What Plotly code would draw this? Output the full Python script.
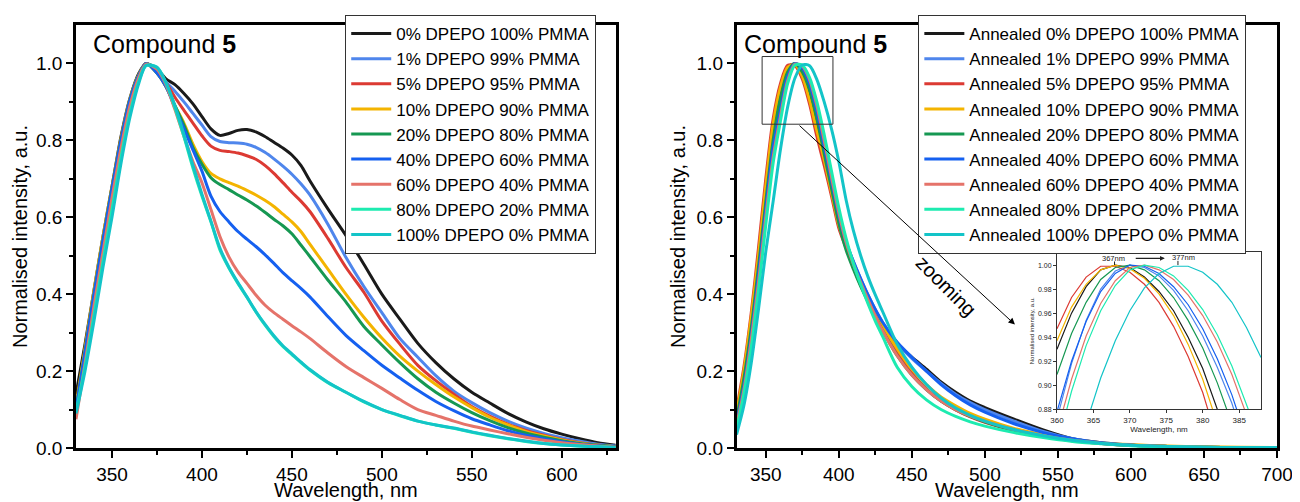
import plotly.graph_objects as go

# ---------------- data: as-cast films (left) ----------------
X_L = [330, 335, 340, 345, 350, 355, 360, 365, 369, 375, 380, 385, 390, 395, 400, 405, 410, 415, 420,
       425, 430, 435, 440, 445, 450, 455, 460, 470, 480, 490, 500, 510, 520, 530, 540, 550, 560,
       570, 580, 590, 600, 610, 620, 630]

L_0 = [0.14, 0.27, 0.41, 0.55, 0.68, 0.81, 0.91, 0.975, 1.0, 0.985, 0.96, 0.945, 0.922, 0.895, 0.862, 0.83, 0.813, 0.818, 0.826,
       0.828, 0.822, 0.81, 0.795, 0.78, 0.762, 0.735, 0.695, 0.622, 0.553, 0.478, 0.40, 0.335, 0.272, 0.222, 0.18, 0.145, 0.117,
       0.09, 0.068, 0.05, 0.036, 0.024, 0.014, 0.007]
L_1 = [0.10, 0.25, 0.40, 0.54, 0.675, 0.80, 0.905, 0.97, 1.0, 0.98, 0.952, 0.928, 0.9, 0.87, 0.84, 0.81, 0.797, 0.794, 0.793,
       0.79, 0.782, 0.769, 0.752, 0.733, 0.712, 0.687, 0.658, 0.582, 0.496, 0.42, 0.352, 0.285, 0.236, 0.188, 0.148, 0.118, 0.092,
       0.07, 0.052, 0.038, 0.027, 0.018, 0.01, 0.005]
L_5 = [0.10, 0.25, 0.40, 0.54, 0.675, 0.80, 0.905, 0.97, 1.0, 0.978, 0.95, 0.912, 0.878, 0.845, 0.812, 0.785, 0.774, 0.771, 0.767,
       0.76, 0.751, 0.735, 0.714, 0.69, 0.665, 0.642, 0.615, 0.545, 0.47, 0.405, 0.33, 0.27, 0.215, 0.175, 0.14, 0.108, 0.083,
       0.062, 0.046, 0.033, 0.022, 0.014, 0.008, 0.003]
L_10 = [0.11, 0.26, 0.41, 0.55, 0.68, 0.805, 0.908, 0.972, 1.0, 0.975, 0.94, 0.89, 0.845, 0.79, 0.745, 0.714, 0.7, 0.69, 0.681,
        0.67, 0.658, 0.644, 0.628, 0.608, 0.588, 0.563, 0.53, 0.465, 0.40, 0.34, 0.286, 0.239, 0.2, 0.165, 0.133, 0.105, 0.08,
        0.06, 0.043, 0.031, 0.021, 0.013, 0.007, 0.003]
L_20 = [0.10, 0.25, 0.40, 0.54, 0.675, 0.80, 0.905, 0.97, 1.0, 0.975, 0.94, 0.89, 0.84, 0.782, 0.738, 0.703, 0.685, 0.672, 0.658,
        0.645, 0.63, 0.613, 0.595, 0.578, 0.557, 0.528, 0.498, 0.437, 0.38, 0.316, 0.268, 0.222, 0.18, 0.145, 0.117, 0.092, 0.071,
        0.053, 0.039, 0.028, 0.019, 0.012, 0.007, 0.003]
L_40 = [0.10, 0.25, 0.40, 0.54, 0.675, 0.80, 0.905, 0.97, 1.0, 0.975, 0.94, 0.885, 0.83, 0.775, 0.72, 0.655, 0.615, 0.588, 0.563,
        0.543, 0.524, 0.503, 0.48, 0.456, 0.435, 0.415, 0.393, 0.342, 0.293, 0.253, 0.215, 0.182, 0.15, 0.121, 0.097, 0.076, 0.06,
        0.045, 0.033, 0.024, 0.016, 0.01, 0.006, 0.002]
L_60 = [0.075, 0.22, 0.37, 0.51, 0.65, 0.78, 0.89, 0.965, 0.998, 0.985, 0.945, 0.88, 0.81, 0.745, 0.69, 0.62, 0.55, 0.497, 0.458,
        0.428, 0.398, 0.372, 0.352, 0.335, 0.318, 0.302, 0.285, 0.247, 0.212, 0.183, 0.155, 0.126, 0.1, 0.085, 0.07, 0.057, 0.047,
        0.037, 0.028, 0.02, 0.014, 0.009, 0.005, 0.002]
L_80 = [0.095, 0.21, 0.345, 0.485, 0.62, 0.755, 0.87, 0.955, 0.995, 0.99, 0.95, 0.885, 0.81, 0.728, 0.655, 0.588, 0.515, 0.468, 0.428,
        0.392, 0.354, 0.32, 0.29, 0.264, 0.243, 0.222, 0.203, 0.17, 0.145, 0.12, 0.1, 0.084, 0.07, 0.06, 0.051, 0.041, 0.032,
        0.024, 0.017, 0.012, 0.008, 0.005, 0.003, 0.001]
L_100 = [0.09, 0.20, 0.33, 0.47, 0.60, 0.74, 0.86, 0.95, 0.995, 0.99, 0.95, 0.89, 0.815, 0.735, 0.66, 0.59, 0.52, 0.47, 0.43,
         0.393, 0.355, 0.322, 0.292, 0.266, 0.245, 0.224, 0.204, 0.171, 0.145, 0.121, 0.1, 0.085, 0.07, 0.06, 0.052, 0.042, 0.033,
         0.025, 0.018, 0.012, 0.008, 0.005, 0.003, 0.001]

# ---------------- data: annealed films (right) ----------------
X_R = [330, 335, 340, 345, 350, 355, 360, 365, 370, 375, 380, 385, 390, 395, 400, 405, 410, 415, 420, 425, 430,
       440, 450, 460, 470, 480, 490, 500, 520, 540, 560, 580, 600, 625, 650, 675, 700]

R_0 = [0.08, 0.19, 0.33, 0.49, 0.67, 0.83, 0.93, 0.99, 0.998, 0.97, 0.914, 0.83, 0.755, 0.67, 0.585, 0.525, 0.475, 0.43, 0.392, 0.355, 0.322,
       0.272, 0.236, 0.205, 0.172, 0.145, 0.122, 0.105, 0.075, 0.047, 0.024, 0.013, 0.007, 0.004, 0.002, 0.001, 0.001]
R_1 = [0.07, 0.17, 0.30, 0.46, 0.63, 0.77, 0.885, 0.97, 1.0, 0.985, 0.941, 0.86, 0.77, 0.685, 0.60, 0.535, 0.485, 0.44, 0.398, 0.36, 0.326,
       0.273, 0.233, 0.2, 0.168, 0.14, 0.118, 0.1, 0.07, 0.043, 0.024, 0.013, 0.007, 0.004, 0.002, 0.001, 0.001]
R_5 = [0.10, 0.21, 0.35, 0.52, 0.70, 0.855, 0.947, 0.995, 0.994, 0.96, 0.894, 0.81, 0.735, 0.655, 0.572, 0.52, 0.47, 0.423, 0.383, 0.345, 0.31,
       0.25, 0.195, 0.153, 0.122, 0.099, 0.081, 0.067, 0.045, 0.03, 0.019, 0.012, 0.007, 0.004, 0.002, 0.001, 0.001]
R_10 = [0.09, 0.20, 0.34, 0.50, 0.68, 0.84, 0.937, 0.99, 0.997, 0.967, 0.905, 0.825, 0.75, 0.665, 0.58, 0.525, 0.475, 0.43, 0.39, 0.352, 0.318,
        0.258, 0.205, 0.165, 0.133, 0.11, 0.09, 0.075, 0.051, 0.034, 0.022, 0.014, 0.009, 0.005, 0.003, 0.002, 0.001]
R_20 = [0.075, 0.18, 0.31, 0.47, 0.64, 0.80, 0.909, 0.978, 1.0, 0.978, 0.931, 0.855, 0.765, 0.675, 0.585, 0.515, 0.465, 0.42, 0.38, 0.342, 0.305,
        0.24, 0.19, 0.152, 0.122, 0.1, 0.082, 0.068, 0.046, 0.03, 0.019, 0.012, 0.007, 0.004, 0.002, 0.001, 0.001]
R_40 = [0.065, 0.16, 0.29, 0.45, 0.62, 0.78, 0.878, 0.966, 1.0, 0.988, 0.947, 0.875, 0.785, 0.695, 0.605, 0.535, 0.485, 0.44, 0.398, 0.36, 0.327,
        0.275, 0.236, 0.2, 0.165, 0.136, 0.112, 0.093, 0.063, 0.04, 0.024, 0.014, 0.008, 0.004, 0.002, 0.001, 0.001]
R_60 = [0.06, 0.15, 0.28, 0.43, 0.60, 0.755, 0.861, 0.955, 0.998, 0.993, 0.958, 0.89, 0.80, 0.705, 0.612, 0.535, 0.478, 0.43, 0.385, 0.343, 0.305,
        0.24, 0.19, 0.152, 0.122, 0.1, 0.083, 0.07, 0.048, 0.032, 0.02, 0.012, 0.007, 0.004, 0.002, 0.001, 0.001]
R_80 = [0.05, 0.14, 0.26, 0.41, 0.58, 0.74, 0.849, 0.948, 0.996, 0.996, 0.963, 0.90, 0.815, 0.72, 0.625, 0.545, 0.48, 0.425, 0.375, 0.33, 0.29,
        0.21, 0.16, 0.125, 0.1, 0.082, 0.068, 0.057, 0.04, 0.027, 0.017, 0.011, 0.006, 0.003, 0.002, 0.001, 0.001]
R_100 = [0.035, 0.11, 0.22, 0.36, 0.51, 0.64, 0.775, 0.887, 0.962, 0.996, 0.994, 0.958, 0.90, 0.83, 0.745, 0.645, 0.565, 0.5, 0.445, 0.398, 0.355,
         0.27, 0.21, 0.165, 0.13, 0.104, 0.085, 0.07, 0.048, 0.032, 0.02, 0.012, 0.007, 0.004, 0.002, 0.001, 0.001]

# ---------------- data: inset (zoom on annealed peaks) ----------------
X_IN = [360, 362, 364, 366, 368, 370, 372, 374, 376, 378, 380, 382, 384, 386, 388]
IN_0 = [0.930, 0.960, 0.982, 0.996, 1.0, 0.998, 0.990, 0.978, 0.962, 0.940, 0.914, 0.882, 0.846, 0.806, 0.760]
IN_1 = [0.872, 0.918, 0.954, 0.980, 0.995, 1.0, 0.998, 0.991, 0.979, 0.962, 0.941, 0.915, 0.885, 0.849, 0.809]
IN_5 = [0.947, 0.973, 0.990, 0.999, 0.999, 0.994, 0.984, 0.969, 0.949, 0.924, 0.894, 0.858, 0.818, 0.773, 0.722]
IN_10 = [0.937, 0.965, 0.984, 0.996, 1.0, 0.997, 0.989, 0.976, 0.958, 0.934, 0.905, 0.871, 0.831, 0.786, 0.736]
IN_20 = [0.909, 0.943, 0.969, 0.988, 0.998, 1.0, 0.996, 0.987, 0.973, 0.954, 0.931, 0.902, 0.868, 0.828, 0.784]
IN_40 = [0.878, 0.920, 0.953, 0.978, 0.993, 1.0, 0.999, 0.993, 0.982, 0.967, 0.947, 0.922, 0.892, 0.858, 0.819]
IN_60 = [0.861, 0.905, 0.941, 0.968, 0.987, 0.998, 1.0, 0.996, 0.988, 0.975, 0.958, 0.936, 0.909, 0.878, 0.842]
IN_80 = [0.849, 0.895, 0.933, 0.962, 0.983, 0.996, 1.0, 0.998, 0.991, 0.979, 0.963, 0.942, 0.916, 0.886, 0.852]
IN_100 = [0.775, 0.825, 0.868, 0.906, 0.937, 0.962, 0.981, 0.993, 0.999, 0.999, 0.994, 0.984, 0.969, 0.948, 0.923]

NAMES = ["0% DPEPO 100% PMMA", "1% DPEPO 99% PMMA", "5% DPEPO 95% PMMA", "10% DPEPO 90% PMMA",
         "20% DPEPO 80% PMMA", "40% DPEPO 60% PMMA", "60% DPEPO 40% PMMA", "80% DPEPO 20% PMMA",
         "100% DPEPO 0% PMMA"]
COLORS = ["#1a1a1a", "#4f86ec", "#dc3a33", "#f4b400", "#169852", "#1560f0", "#e5736a", "#1debb0", "#13c4c8"]
LEFT = [L_0, L_1, L_5, L_10, L_20, L_40, L_60, L_80, L_100]
RIGHT = [R_0, R_1, R_5, R_10, R_20, R_40, R_60, R_80, R_100]
INSET = [IN_0, IN_1, IN_5, IN_10, IN_20, IN_40, IN_60, IN_80, IN_100]

FONT = "Liberation Sans, Arial, sans-serif"

fig = go.Figure()
for name, col, ys in zip(NAMES, COLORS, LEFT):
    fig.add_trace(go.Scatter(x=X_L, y=ys, mode="lines", name=name, xaxis="x", yaxis="y",
                             line=dict(color=col, width=3, shape="spline", smoothing=0.8),
                             legend="legend"))
for name, col, ys in zip(NAMES, COLORS, RIGHT):
    fig.add_trace(go.Scatter(x=X_R, y=ys, mode="lines", name="Annealed " + name, xaxis="x2", yaxis="y2",
                             line=dict(color=col, width=3, shape="spline", smoothing=0.8),
                             legend="legend2"))
for name, col, ys in zip(NAMES, COLORS, INSET):
    fig.add_trace(go.Scatter(x=X_IN, y=ys, mode="lines", name="inset " + name, xaxis="x3", yaxis="y3",
                             line=dict(color=col, width=1.2), showlegend=False))


def main_axis(**kw):
    d = dict(showline=True, linewidth=2.5, linecolor="black", mirror=True,
             ticks="outside", ticklen=7, tickwidth=2, tickcolor="black",
             tickfont=dict(size=19, color="black", family=FONT),
             showgrid=False, zeroline=False)
    d.update(kw)
    return d


def inset_axis(**kw):
    d = dict(showline=True, linewidth=1, linecolor="#333", mirror=True,
             ticks="outside", ticklen=3, tickwidth=1, tickcolor="#333",
             tickfont=dict(size=8, color="#222", family=FONT),
             showgrid=False, zeroline=False)
    d.update(kw)
    return d


title_font = dict(size=20, color="black", family=FONT)
leg_font = dict(size=17, family=FONT, color="black")

# the page body adds an 8px offset, so the figure is sized to fit exactly in the 1300x502 window
fig.update_layout(
    width=1292, height=494,
    margin=dict(l=68, r=23, t=17, b=54, autoexpand=False),
    paper_bgcolor="white", plot_bgcolor="white",
    font=dict(family=FONT, color="black"),
    xaxis=main_axis(domain=[0, 0.4494], range=[330, 630], tickvals=[350, 400, 450, 500, 550, 600],
                    minor=dict(tickvals=[375, 425, 475, 525, 575, 625], ticks="outside", ticklen=4,
                               tickwidth=2, tickcolor="black")),
    yaxis=main_axis(domain=[0, 1], range=[0, 1.1], tickvals=[0, 0.2, 0.4, 0.6, 0.8, 1.0], tickformat=".1f",
                    minor=dict(tickvals=[0.1, 0.3, 0.5, 0.7, 0.9], ticks="outside", ticklen=4,
                               tickwidth=2, tickcolor="black"),
                    title=dict(text="Normalised intensity, a.u.", font=title_font, standoff=4)),
    xaxis2=main_axis(domain=[0.55, 1], range=[330, 700], anchor="y2",
                     tickvals=[350, 400, 450, 500, 550, 600, 650, 700],
                     minor=dict(tickvals=[375, 425, 475, 525, 575, 625, 675], ticks="outside", ticklen=4,
                                tickwidth=2, tickcolor="black")),
    yaxis2=main_axis(domain=[0, 1], range=[0, 1.1], anchor="x2",
                     tickvals=[0, 0.2, 0.4, 0.6, 0.8, 1.0], tickformat=".1f",
                     minor=dict(tickvals=[0.1, 0.3, 0.5, 0.7, 0.9], ticks="outside", ticklen=4,
                                tickwidth=2, tickcolor="black"),
                     title=dict(text="Normalised intensity, a.u.", font=title_font, standoff=6)),
    xaxis3=inset_axis(domain=[0.8168, 0.9867], range=[360, 388], anchor="y3",
                      tickvals=[360, 365, 370, 375, 380, 385],
                      title=dict(text="Wavelength, nm", font=dict(size=8, color="#222", family=FONT), standoff=0)),
    yaxis3=inset_axis(domain=[0.0915, 0.4626], range=[0.88, 1.0106], anchor="x3",
                      tickvals=[0.88, 0.90, 0.92, 0.94, 0.96, 0.98, 1.00], tickformat=".2f",
                      tickfont=dict(size=7, color="#222", family=FONT),
                      title=dict(text="Normalised intensity, a.u.", font=dict(size=6, color="#222", family=FONT),
                                 standoff=2)),
    legend=dict(x=0.224, y=1.024, xanchor="left", yanchor="top", bgcolor="white",
                bordercolor="#333", borderwidth=1.2, font=leg_font,
                tracegroupgap=0, itemwidth=40, maxheight=400),
    legend2=dict(x=0.7012, y=1.024, xanchor="left", yanchor="top", bgcolor="white",
                 bordercolor="#333", borderwidth=1.2, font=leg_font,
                 tracegroupgap=0, itemwidth=40, maxheight=400),
    showlegend=True,
)

annotations = [
    # x-axis titles (placed tight under the tick labels as in the original)
    dict(text="Wavelength, nm", xref="paper", yref="paper", x=0.2247, y=-0.0985, xanchor="center",
         yanchor="middle", showarrow=False, font=title_font),
    dict(text="Wavelength, nm", xref="paper", yref="paper", x=0.775, y=-0.0985, xanchor="center",
         yanchor="middle", showarrow=False, font=title_font),
    dict(text="Compound <b>5</b>", xref="paper", yref="paper", x=0.0122, y=0.955, xanchor="left",
         yanchor="middle", showarrow=False, font=dict(size=25, family=FONT, color="black")),
    dict(text="Compound <b>5</b>", xref="paper", yref="paper", x=0.5543, y=0.955, xanchor="left",
         yanchor="middle", showarrow=False, font=dict(size=25, family=FONT, color="black")),
    # zoom arrow from rectangle to the inset
    dict(x=520.6, y=0.321, ax=372.1, ay=0.842, xref="x2", yref="y2", axref="x2", ayref="y2",
         text="", showarrow=True, arrowhead=2, arrowsize=1.3, arrowwidth=1, arrowcolor="black"),
    dict(text="zooming", x=473.4, y=0.42, xref="x2", yref="y2", showarrow=False, textangle=45,
         font=dict(size=20, family=FONT, color="black")),
    # inset peak labels
    dict(text="367nm", x=367.7, y=1.0058, xref="x3", yref="y3", showarrow=False,
         font=dict(size=7.5, family=FONT, color="#222")),
    dict(text="377nm", x=377.4, y=1.0063, xref="x3", yref="y3", showarrow=False,
         font=dict(size=7.5, family=FONT, color="#222")),
    dict(x=374.8, y=1.0056, ax=370.6, ay=1.0056, xref="x3", yref="y3", axref="x3", ayref="y3",
         text="", showarrow=True, arrowhead=2, arrowsize=0.8, arrowwidth=1.2, arrowcolor="#222"),
]
fig.update_layout(annotations=annotations)

shapes = [
    dict(type="rect", xref="x2", yref="y2", x0=347.5, x1=396, y0=0.842, y1=1.018,
         line=dict(color="#333", width=1)),
    dict(type="line", xref="x3", yref="y3", x0=367.9, x1=367.9, y0=1.0, y1=1.003,
         line=dict(color="#222", width=1)),
    dict(type="line", xref="x3", yref="y3", x0=376.6, x1=376.6, y0=1.0, y1=1.0035,
         line=dict(color="#222", width=1)),
]
fig.update_layout(shapes=shapes)

fig.write_html("out.html")
